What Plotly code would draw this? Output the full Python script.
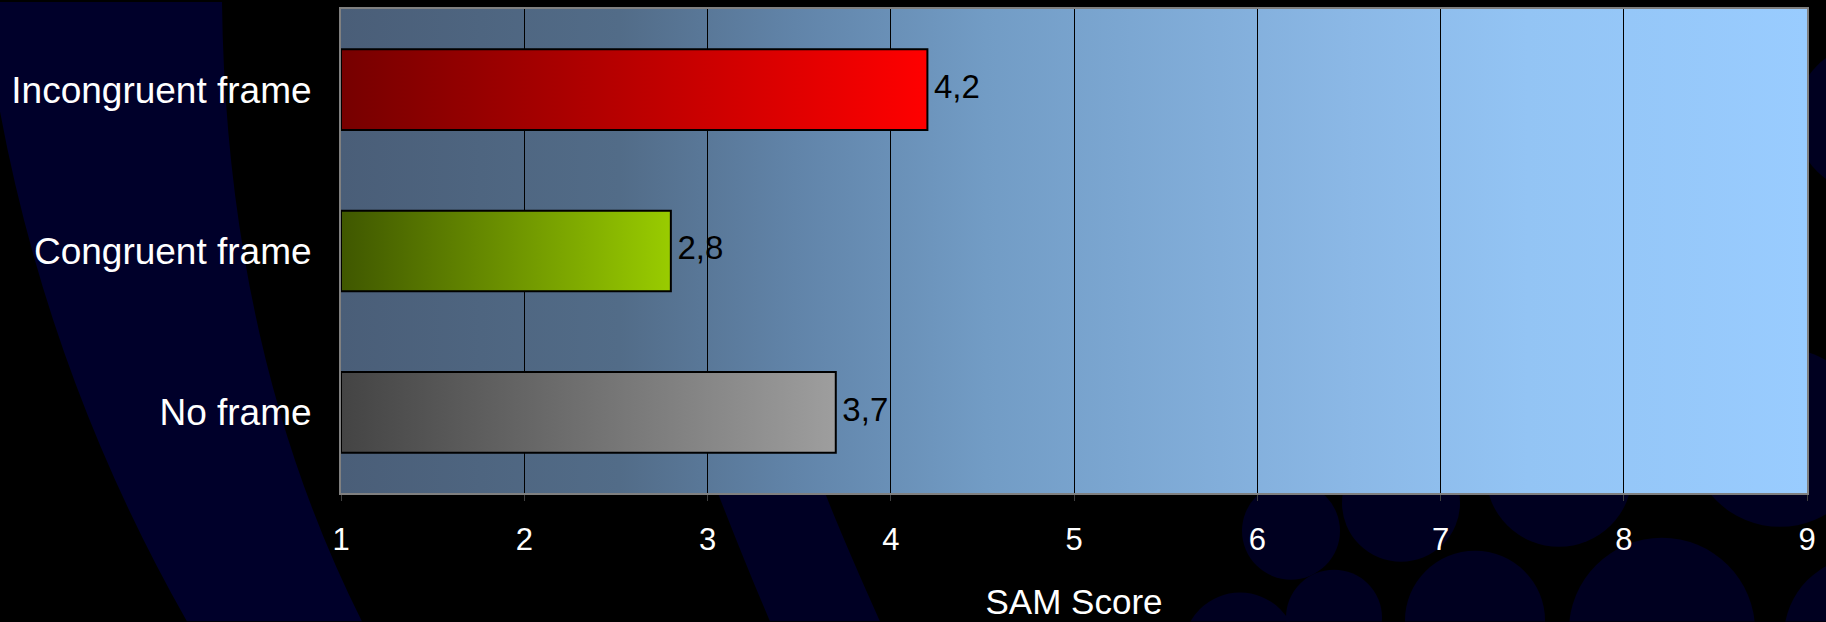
import base64
import plotly.graph_objects as go

# ---------------- data ----------------
categories = ["No frame", "Congruent frame", "Incongruent frame"]   # bottom -> top
sam_scores = [3.7, 2.8, 4.2]
x_ticks = [1, 2, 3, 4, 5, 6, 7, 8, 9]
x_title = "SAM Score"

# ---------------- style ----------------
bar_gradients = [
    ("#444444", "#9e9e9e"),   # No frame (grey)
    ("#3f5700", "#99cc00"),   # Congruent frame (green)
    ("#760000", "#ff0000"),   # Incongruent frame (red)
]
FONT = "Liberation Sans, Arial, Helvetica, sans-serif"
W, H = 1826, 622
ML, MR, MT, MB = 341, 19, 7, 129
PW, PH = W - ML - MR, H - MT - MB
BAR_HALF = 0.25
x_range = [x_ticks[0], x_ticks[-1]]


def svg_uri(svg):
    return "data:image/svg+xml;base64," + base64.b64encode(svg.encode()).decode()


# page background: black with dark navy rings/circles
bg_svg = f"""<svg xmlns="http://www.w3.org/2000/svg" width="{W}" height="{H}" viewBox="0 0 {W} {H}" preserveAspectRatio="none">
<rect width="{W}" height="{H}" fill="#000000"/>
<path d="M0 0 L222 0 Q226 350 362 622 L187 622 Q50 380 0 110 Z" fill="#00002a"/>
<path d="M690 420 L800 420 Q812 470 880 622 L770 622 Q735 540 690 420 Z" fill="#000024"/>
<g fill="#000020">
<circle cx="1291" cy="531" r="49"/>
<circle cx="1401" cy="503" r="59"/>
<circle cx="1559" cy="474" r="73"/>
<circle cx="1780" cy="437" r="90"/>
<circle cx="1334" cy="618" r="48"/>
<circle cx="1240" cy="650" r="57"/>
<circle cx="1475" cy="621" r="70"/>
<circle cx="1662" cy="631" r="93"/>
<circle cx="1864" cy="637" r="80"/>
<circle cx="1870" cy="117" r="75"/>
</g>
</svg>"""

# plot-area background: horizontal blue gradient
plot_svg = f"""<svg xmlns="http://www.w3.org/2000/svg" width="{PW}" height="{PH}" viewBox="0 0 {PW} {PH}" preserveAspectRatio="none">
<defs><linearGradient id="g" x1="0" y1="0" x2="1" y2="0">
<stop offset="0" stop-color="#4a5e78"/>
<stop offset="0.19" stop-color="#526c88"/>
<stop offset="0.31" stop-color="#6184a9"/>
<stop offset="0.44" stop-color="#729cc5"/>
<stop offset="0.69" stop-color="#8bb8e6"/>
<stop offset="0.81" stop-color="#93c4f4"/>
<stop offset="1" stop-color="#99ccff"/>
</linearGradient></defs>
<rect width="{PW}" height="{PH}" fill="url(#g)"/>
</svg>"""

fig = go.Figure()

# bars drawn as gradient-filled rectangles through the data axes
for i, (cat, val) in enumerate(zip(categories, sam_scores)):
    c0, c1 = bar_gradients[i]
    base = x_range[0]
    fig.add_trace(go.Scatter(
        x=[base, val, val, base, base],
        y=[i - BAR_HALF, i - BAR_HALF, i + BAR_HALF, i + BAR_HALF, i - BAR_HALF],
        mode="lines",
        fill="toself",
        fillgradient=dict(type="horizontal", colorscale=[[0, c0], [1, c1]]),
        line=dict(color="#000000", width=2),
        name=cat,
        hoverinfo="skip",
        showlegend=False,
    ))

# value labels (decimal comma)
labels = [f"{v:.1f}".replace(".", ",") for v in sam_scores]
fig.add_trace(go.Scatter(
    x=sam_scores,
    y=list(range(len(categories))),
    mode="text",
    text=["\u2009" + t for t in labels],
    textposition="middle right",
    textfont=dict(family=FONT, size=33, color="#000000"),
    hoverinfo="skip",
    showlegend=False,
    cliponaxis=False,
))

fig.update_layout(
    width=W, height=H, autosize=False,
    margin=dict(l=ML, r=MR, t=MT, b=MB, pad=0),
    paper_bgcolor="#000000",
    plot_bgcolor="rgba(0,0,0,0)",
    font=dict(family=FONT, color="#ffffff"),
    showlegend=False,
    images=[
        dict(source=svg_uri(bg_svg), xref="paper", yref="paper",
             x=-ML / PW, y=1 + MT / PH, sizex=W / PW, sizey=H / PH,
             xanchor="left", yanchor="top", sizing="stretch", layer="below"),
        dict(source=svg_uri(plot_svg), xref="paper", yref="paper",
             x=0, y=1, sizex=1, sizey=1,
             xanchor="left", yanchor="top", sizing="stretch", layer="below"),
    ],
    xaxis=dict(
        range=x_range,
        tickvals=x_ticks,
        ticktext=[str(t) for t in x_ticks],
        showgrid=True, gridcolor="#000000", gridwidth=1,
        zeroline=False,
        showline=True, mirror=True, linecolor="#808080", linewidth=2,
        ticks="outside", ticklen=6, tickcolor="#404040", tickwidth=1,
        tickfont=dict(family=FONT, size=31, color="#ffffff"),
        ticklabelstandoff=12,
        title=dict(text=x_title, font=dict(family=FONT, size=35, color="#ffffff"), standoff=33),
        fixedrange=True,
    ),
    yaxis=dict(
        range=[-0.5, len(categories) - 0.5],
        tickvals=list(range(len(categories))),
        ticktext=categories,
        showgrid=False, zeroline=False,
        showline=True, mirror=True, linecolor="#808080", linewidth=2,
        ticks="",
        tickfont=dict(family=FONT, size=37, color="#ffffff"),
        ticklabelstandoff=20,
        fixedrange=True,
    ),
)

fig.write_html(
    "out.html",
    config=dict(displayModeBar=False),
    post_script="document.body.style.margin='0';document.body.style.overflow='hidden';",
)
